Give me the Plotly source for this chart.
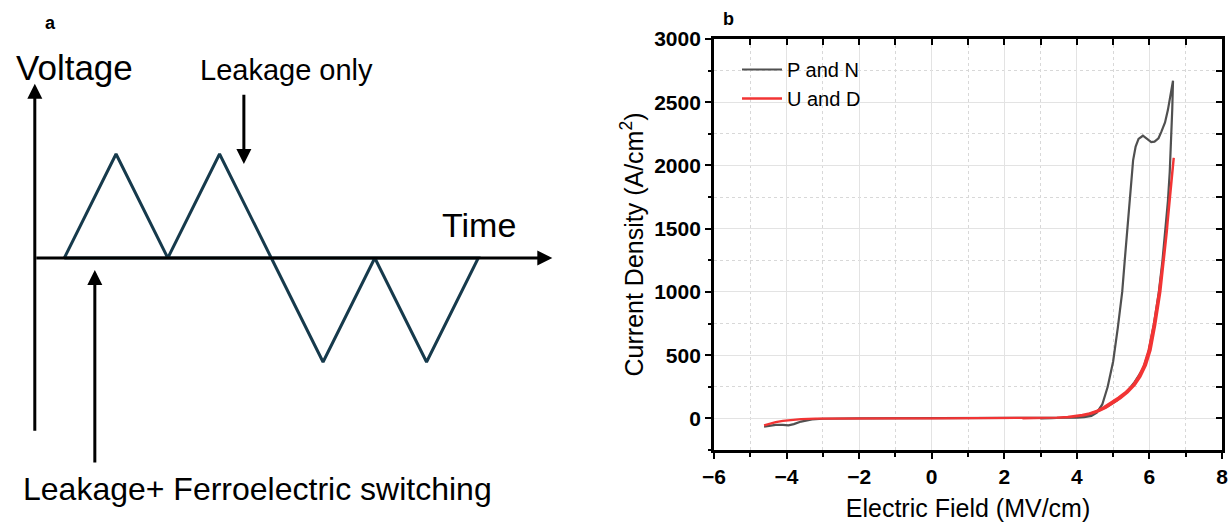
import plotly.graph_objects as go

W, H = 1230, 527

# ---------------- panel a: PUND pulse schematic ----------------
# half-period index along the time axis, normalised voltage amplitude
pulse_time = [0.57, 1.57, 2.57, 3.57, 4.57, 5.57, 6.57, 7.57, 8.57, 0.57]
pulse_voltage = [0, 2, 0, 2, 0, -2, 0, -2, 0, 0]

# ---------------- panel b: current density vs electric field ----------------
pn_field = [-4.62, -4.5, -4.3, -4.1, -3.95, -3.8, -3.6, -3.3, -3.0, -2.0, -1.0, 0.0,
            1.0, 2.0, 3.0, 3.5, 3.8, 4.0, 4.2, 4.4, 4.55, 4.7, 4.85, 5.0, 5.13,
            5.25, 5.32, 5.45, 5.55, 5.62, 5.7, 5.82, 5.96, 6.05, 6.14, 6.25, 6.33,
            6.43, 6.51, 6.58, 6.65,
            6.63, 6.6, 6.56, 6.51, 6.44, 6.36, 6.26, 6.12, 5.97, 5.82, 5.6, 5.35,
            5.1, 4.85, 4.6, 4.4, 4.2, 4.0, 3.7, 3.3, 3.0]
pn_current = [-65, -60, -52, -52, -55, -45, -25, -8, -3, 0, 0, 0,
              0, 0, 1, 2, 4, 6, 10, 20, 45, 110, 250, 450, 720,
              1000, 1250, 1720, 2040, 2150, 2210, 2235, 2205, 2185, 2188, 2215, 2267,
              2340, 2440, 2540, 2670,
              2450, 2200, 1950, 1720, 1480, 1250, 1000, 740, 520, 390, 290, 200,
              140, 95, 60, 38, 22, 12, 5, 1, 0]

ud_field = [-4.62, -4.5, -4.3, -4.1, -3.9, -3.6, -3.2, -2.5, -1.0, 0.0, 1.0, 2.0,
            3.0, 3.5, 3.8, 4.0, 4.2, 4.4, 4.6, 4.8, 5.0, 5.2, 5.4, 5.6, 5.75, 5.9,
            6.03, 6.16, 6.3, 6.4, 6.48, 6.55, 6.61, 6.67,
            6.62, 6.55, 6.47, 6.37, 6.26, 6.12, 5.98, 5.85, 5.7, 5.55, 5.35, 5.15,
            4.95, 4.75, 4.55, 4.35, 4.15, 3.95, 3.75, 3.45, 3.0, 2.5]
ud_current = [-55, -45, -30, -20, -13, -6, -2, 0, 0, 0, 0, 0,
              2, 6, 11, 16, 25, 38, 57, 85, 120, 160, 205, 265, 330, 420,
              540, 740, 1000, 1250, 1480, 1720, 1900, 2060,
              1930, 1700, 1460, 1230, 990, 740, 540, 420, 330, 265, 210, 165,
              125, 90, 60, 40, 27, 18, 12, 6, 2, 0]

field_ticks = [-6, -4, -2, 0, 2, 4, 6, 8]
current_ticks = [0, 500, 1000, 1500, 2000, 2500, 3000]

SANS = "Liberation Sans, Arial, sans-serif"
WAVE = "#163a4c"

fig = go.Figure()

# panel a waveform
fig.add_trace(go.Scatter(x=pulse_time, y=pulse_voltage, mode="lines",
                         line=dict(color=WAVE, width=3), xaxis="x2", yaxis="y2",
                         showlegend=False, hoverinfo="skip"))

# panel b curves
fig.add_trace(go.Scatter(x=pn_field, y=pn_current, mode="lines", name="P and N",
                         line=dict(color="#505050", width=2.2)))
fig.add_trace(go.Scatter(x=ud_field, y=ud_current, mode="lines", name="U and D",
                         line=dict(color="#f23434", width=2.4)))
# empty trace that carries the inward top/right tick axes
fig.add_trace(go.Scatter(x=[None], y=[None], xaxis="x3", yaxis="y3",
                         showlegend=False, hoverinfo="skip"))

# panel a geometry: pixel origin of the schematic axes and pixel size of one unit
a_w = 590.0
ox, oy = 34.8, 258.0
ux, uy = 51.75, 52.0
xa_range = [-ox / ux, (a_w - ox) / ux]
ya_range = [-(H - oy) / uy, oy / uy]

bx0, bx1 = 714, 1222
by0, by1 = 39, 450

grid_major = "#e3e3e3"
grid_minor = "#d8d8d8"
tick_font = dict(family=SANS, size=21, color="black", weight="bold")

fig.update_layout(
    width=W, height=H,
    margin=dict(l=0, r=0, t=0, b=0, pad=0, autoexpand=False),
    paper_bgcolor="white", plot_bgcolor="white",
    font=dict(family=SANS, color="black"),
    xaxis2=dict(domain=[0, a_w / W], range=xa_range, visible=False, fixedrange=True,
                anchor="y2", automargin=False),
    yaxis2=dict(domain=[0, 1], range=ya_range, visible=False, fixedrange=True,
                anchor="x2", automargin=False),
    xaxis=dict(
        domain=[bx0 / W, bx1 / W], range=[-6, 8], anchor="y", automargin=False,
        tickmode="array", tickvals=field_ticks,
        ticks="outside", ticklen=6, tickwidth=2, tickcolor="black",
        showline=True, linewidth=2.8, linecolor="black", mirror=True,
        showgrid=True, gridcolor=grid_major, gridwidth=1, zeroline=False,
        minor=dict(dtick=1, tick0=0, ticks="outside", ticklen=4, tickwidth=2,
                   tickcolor="black", showgrid=True, gridcolor=grid_minor,
                   griddash="dot", gridwidth=1),
        tickfont=tick_font,
        title=dict(text="Electric Field (MV/cm)", font=dict(family=SANS, size=25),
                   standoff=13),
    ),
    yaxis=dict(
        domain=[1 - by1 / H, 1 - by0 / H], range=[-250, 3000], anchor="x",
        automargin=False,
        tickmode="array", tickvals=current_ticks,
        ticks="outside", ticklen=6, tickwidth=2, tickcolor="black",
        showline=True, linewidth=2.8, linecolor="black", mirror=True,
        showgrid=True, gridcolor=grid_major, gridwidth=1, zeroline=False,
        minor=dict(dtick=250, tick0=0, ticks="outside", ticklen=3, tickwidth=2,
                   tickcolor="black", showgrid=True, gridcolor=grid_minor,
                   griddash="dot", gridwidth=1),
        tickfont=tick_font,
        title=dict(text="Current Density (A/cm<sup>2</sup>)",
                   font=dict(family=SANS, size=25), standoff=4),
    ),
    xaxis3=dict(overlaying="x", anchor="y", side="top", range=[-6, 8],
                dtick=1, tick0=0, ticks="inside", ticklen=6, tickwidth=2,
                tickcolor="black", showticklabels=False, showgrid=False,
                showline=False, zeroline=False, fixedrange=True, automargin=False),
    yaxis3=dict(overlaying="y", anchor="x", side="right", range=[-250, 3000],
                dtick=250, tick0=0, ticks="inside", ticklen=6, tickwidth=2,
                tickcolor="black", showticklabels=False, showgrid=False,
                showline=False, zeroline=False, fixedrange=True, automargin=False),
    legend=dict(x=737 / W, y=1 - 50 / H, xanchor="left", yanchor="top",
                bgcolor="rgba(0,0,0,0)", font=dict(family=SANS, size=20),
                itemwidth=40, tracegroupgap=2),
)

ann = []
# schematic axes with arrowheads
arrow_common = dict(xref="x2", yref="y2", axref="x2", ayref="y2", text="",
                    showarrow=True, arrowhead=2, arrowsize=1, arrowwidth=3,
                    arrowcolor="black", standoff=0, startstandoff=0)
ann.append(dict(x=0, y=3.35, ax=0, ay=-3.35, **arrow_common))
ann.append(dict(x=10.0, y=0, ax=0, ay=0, **arrow_common))
# "Leakage only" pointer
ann.append(dict(x=4.04, y=1.81, ax=4.04, ay=3.17, **arrow_common))
# "Leakage+ Ferroelectric switching" pointer
ann.append(dict(x=1.16, y=-0.23, ax=1.16, ay=-3.96, **arrow_common))

def label(txt, px, py, size):
    return dict(text=txt, x=(px - ox) / ux, y=(oy - py) / uy, xref="x2", yref="y2",
                showarrow=False, xanchor="center", yanchor="middle",
                font=dict(family=SANS, size=size, color="black"))

ann.append(label("Voltage", 74, 67, 35))
ann.append(label("Time", 479, 225, 34))
ann.append(label("Leakage only", 286, 70, 29))
ann.append(label("Leakage+ Ferroelectric switching", 257, 489, 32))

# panel letters
ann.append(dict(text="<b>a</b>", x=50 / W, y=1 - 23 / H, xref="paper", yref="paper",
                showarrow=False, xanchor="center", yanchor="middle",
                font=dict(family=SANS, size=18, color="black")))
ann.append(dict(text="<b>b</b>", x=728 / W, y=1 - 19 / H, xref="paper", yref="paper",
                showarrow=False, xanchor="center", yanchor="middle",
                font=dict(family=SANS, size=18, color="black")))

fig.update_layout(annotations=ann)

fig.write_html("out.html")
